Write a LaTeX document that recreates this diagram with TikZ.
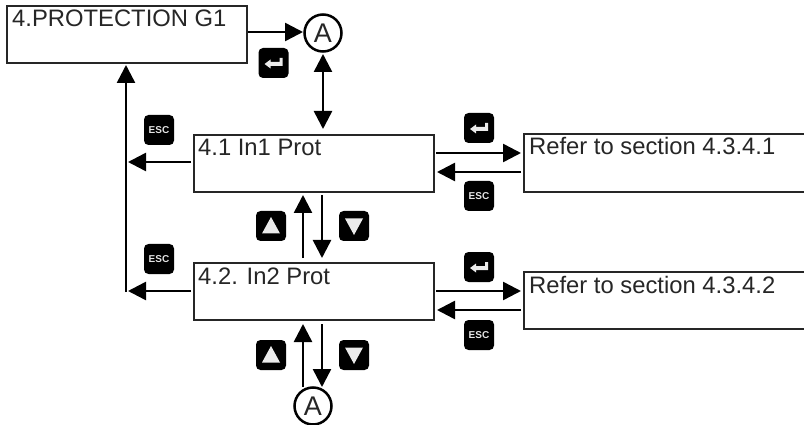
\documentclass[tikz,border=0pt]{standalone}
\usepackage{fontspec}
\setmainfont{Liberation Sans}
\usetikzlibrary{arrows.meta}
\tikzset{
  lcd/.style={draw=black!85,line width=2.2pt,fill=white,rectangle,inner sep=0pt,anchor=north west},
  lcdtext/.style={anchor=base west,inner sep=0pt,font=\fontsize{23.8}{24}\selectfont,text=black!85},
  marker/.style={circle,draw=black,line width=2.5pt,fill=white,minimum size=37pt,inner sep=0pt,font=\fontsize{27}{27}\selectfont,text=black!85},
  keybox/.style={rectangle,rounded corners=4.5pt,fill=black,minimum size=30pt,inner sep=0pt},
  esckey/.style={keybox,text=white!90!black,font=\bfseries\fontsize{10}{10}\selectfont},
  flow/.style={line width=2.5pt,black,-{Triangle[length=18pt,width=18pt]}},
  flowtwo/.style={line width=2.5pt,black,{Triangle[length=18pt,width=18pt]}-{Triangle[length=18pt,width=18pt]}},
  glyph/.style={fill=white!92!black}
}
\newcommand{\enterkey}[2]{\node[keybox] (#1) at (#2) {};
  \fill[glyph,shift={(#2)}] (-9,1) -- (-3,-3.5) -- (-3,-1) -- (6,-1) -- (6,-5) -- (9,-5) -- (9,3) -- (-3,3) -- (-3,5.5) -- cycle;}
\newcommand{\upkey}[2]{\node[keybox] (#1) at (#2) {};
  \fill[glyph,shift={(#2)}] (0,-9) -- (9,7.5) -- (-9,7.5) -- cycle;}
\newcommand{\downkey}[2]{\node[keybox] (#1) at (#2) {};
  \fill[glyph,shift={(#2)}] (0,9) -- (9,-7.5) -- (-9,-7.5) -- cycle;}
\begin{document}
\begin{tikzpicture}[x=1pt,y=-1pt]
\useasboundingbox (0,0) rectangle (804,425);
% boxes
\node[lcd,minimum width=240pt,minimum height=57pt] (top) at (6,5) {};
\node[lcd,minimum width=240pt,minimum height=57pt] (m1) at (193,134) {};
\node[lcd,minimum width=240pt,minimum height=57pt] (m2) at (193,262) {};
\node[lcd,minimum width=290pt,minimum height=58pt] (r1) at (523,133) {};
\node[lcd,minimum width=290pt,minimum height=57pt] (r2) at (523,271) {};
\node[lcdtext] (t0) at (12,27) {4.PROTECTION G1};
\node[lcdtext] (t1) at (198,156) {4.1 In1 Prot};
\node[lcdtext] (t2) at (198,284) {4.2. In2 Prot};
\node[lcdtext] (t3) at (529,155) {Refer to section 4.3.4.1};
\node[lcdtext] (t4) at (529,293) {Refer to section 4.3.4.2};
% markers
\node[marker] (a1) at (323,33) {A};
\node[marker] (a2) at (313,406) {A};
% keys
\enterkey{k1}{273.5,63}
\node[esckey] (k2) at (159,130) {ESC};
\enterkey{k3}{479,128}
\node[esckey] (k4) at (479,196) {ESC};
\upkey{k5}{271,226}
\downkey{k6}{354,226}
\node[esckey] (k7) at (159,259) {ESC};
\enterkey{k8}{479,267}
\node[esckey] (k9) at (479,335) {ESC};
\upkey{k10}{271,355}
\downkey{k11}{354,355}
% connector ends
\coordinate (d1) at (323,129);
\coordinate (v0) at (126,292);
\coordinate (v1) at (126,65);
\coordinate (l1a) at (191,162);
\coordinate (l1b) at (128,162);
\coordinate (l2a) at (191,291);
\coordinate (l2b) at (128,291);
\coordinate (u1a) at (303,258);
\coordinate (u1b) at (303,195);
\coordinate (n1a) at (322,195);
\coordinate (n1b) at (322,258);
\coordinate (u2a) at (303,387);
\coordinate (u2b) at (303,324);
\coordinate (n2a) at (322,324);
\coordinate (n2b) at (322,387);
\coordinate (e1a) at (436,153);
\coordinate (e1b) at (521,153);
\coordinate (x1a) at (521,172);
\coordinate (x1b) at (437,172);
\coordinate (e2a) at (436,291);
\coordinate (e2b) at (521,291);
\coordinate (x2a) at (521,310);
\coordinate (x2b) at (437,310);
\coordinate (s0) at (248,32);
\coordinate (s1) at (303,32);
\coordinate (d0) at (323,54);
% connectors
\draw[flow] (s0) -- (s1);
\draw[flowtwo] (d0) -- (d1);
\draw[flow] (v0) -- (v1);
\draw[flow] (l1a) -- (l1b);
\draw[flow] (l2a) -- (l2b);
\draw[flow] (u1a) -- (u1b);
\draw[flow] (n1a) -- (n1b);
\draw[flow] (u2a) -- (u2b);
\draw[flow] (n2a) -- (n2b);
\draw[flow] (e1a) -- (e1b);
\draw[flow] (x1a) -- (x1b);
\draw[flow] (e2a) -- (e2b);
\draw[flow] (x2a) -- (x2b);
\end{tikzpicture}
\end{document}
